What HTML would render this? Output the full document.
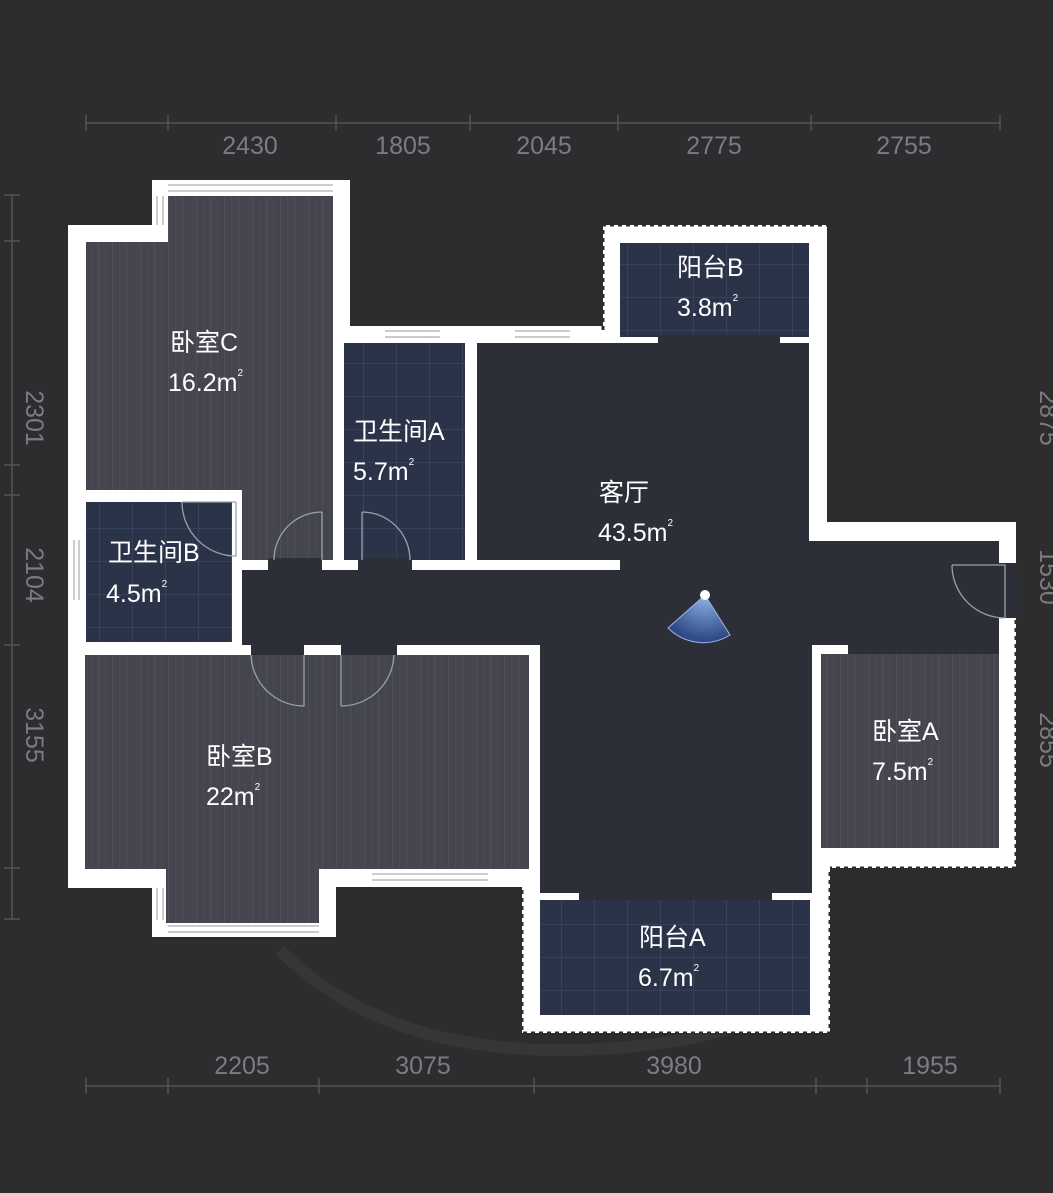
<!DOCTYPE html>
<html><head><meta charset="utf-8"><style>
html,body{margin:0;padding:0;background:#2d2d2f;}
svg{display:block}
text{font-family:"Liberation Sans","Noto Sans CJK SC",sans-serif;}
</style></head><body>
<svg width="1053" height="1193" viewBox="0 0 1053 1193" xmlns="http://www.w3.org/2000/svg">
<defs>
<pattern id="stripe" width="14" height="14" patternUnits="userSpaceOnUse">
<rect width="14" height="14" fill="#45454f"/><rect x="0" width="1" height="14" fill="#50505b"/><rect x="7" width="1" height="14" fill="#4a4a55"/>
</pattern>
<pattern id="grid" width="33" height="33" patternUnits="userSpaceOnUse">
<rect width="33" height="33" fill="#2b3348"/><rect width="1" height="33" fill="#38425c"/><rect width="33" height="1" fill="#38425c"/>
</pattern>
<radialGradient id="cam" cx="705" cy="595" r="45" gradientUnits="userSpaceOnUse">
<stop offset="0" stop-color="#8fb4ea"/><stop offset="1" stop-color="#2f4a86"/>
</radialGradient>
</defs>
<rect width="1053" height="1193" fill="#2d2d2f"/>
<path d="M280,950 Q380,1050 560,1050 Q720,1050 820,990" fill="none" stroke="#38383c" stroke-width="12" opacity="0.8"/>

<!-- dimension lines -->
<g stroke="#555" stroke-width="1.5">
<line x1="86" y1="123" x2="1000" y2="123"/>
<line x1="86" y1="1086" x2="1000" y2="1086"/>
<line x1="12" y1="195" x2="12" y2="920"/>
<line x1="86" y1="115" x2="86" y2="131"/><line x1="168" y1="115" x2="168" y2="131"/><line x1="336" y1="115" x2="336" y2="131"/><line x1="470" y1="115" x2="470" y2="131"/><line x1="618" y1="115" x2="618" y2="131"/><line x1="811" y1="115" x2="811" y2="131"/><line x1="1000" y1="115" x2="1000" y2="131"/>
<line x1="86" y1="1078" x2="86" y2="1094"/><line x1="168" y1="1078" x2="168" y2="1094"/><line x1="319" y1="1078" x2="319" y2="1094"/><line x1="534" y1="1078" x2="534" y2="1094"/><line x1="816" y1="1078" x2="816" y2="1094"/><line x1="867" y1="1078" x2="867" y2="1094"/><line x1="1000" y1="1078" x2="1000" y2="1094"/>
<line x1="4" y1="195" x2="20" y2="195"/><line x1="4" y1="241" x2="20" y2="241"/><line x1="4" y1="465" x2="20" y2="465"/><line x1="4" y1="495" x2="20" y2="495"/><line x1="4" y1="645" x2="20" y2="645"/><line x1="4" y1="868" x2="20" y2="868"/><line x1="4" y1="919" x2="20" y2="919"/>
</g>
<g fill="#7c7c80" font-size="25" text-anchor="middle" dominant-baseline="central">
<text x="250" y="146">2430</text><text x="403" y="146">1805</text><text x="544" y="146">2045</text><text x="714" y="146">2775</text><text x="904" y="146">2755</text>
<text x="242" y="1066">2205</text><text x="423" y="1066">3075</text><text x="674" y="1066">3980</text><text x="930" y="1066">1955</text>
<text transform="translate(34,418) rotate(90)">2301</text>
<text transform="translate(34,575) rotate(90)">2104</text>
<text transform="translate(34,735) rotate(90)">3155</text>
<text transform="translate(1048,418) rotate(90)">2875</text>
<text transform="translate(1048,577) rotate(90)">1530</text>
<text transform="translate(1048,740) rotate(90)">2855</text>
</g>

<!-- white wall mass -->
<path fill="#fff" d="M152,180 H350 V326 H603 V225 H827 V522 H1016 V868 H830 V1033 H522 V887 H336 V937 H152 V888 H68 V225 H152 Z"/>

<!-- rooms -->
<rect x="86" y="242" width="247" height="248" fill="url(#stripe)"/>
<rect x="168" y="196" width="165" height="50" fill="url(#stripe)"/>
<rect x="242" y="488" width="91" height="72" fill="url(#stripe)"/>
<rect x="86" y="502" width="146" height="140" fill="url(#grid)"/>
<rect x="344" y="343" width="121" height="217" fill="url(#grid)"/>
<rect x="620" y="243" width="189" height="94" fill="url(#grid)"/>
<g fill="#2c2e38">
<rect x="477" y="343" width="332" height="217"/>
<rect x="620" y="555" width="189" height="15"/>
<rect x="809" y="541" width="190" height="104"/>
<rect x="242" y="570" width="757" height="75"/>
<rect x="540" y="645" width="272" height="248"/>
<rect x="658" y="335" width="122" height="10"/>
<rect x="579" y="885" width="193" height="17"/>
<rect x="268" y="558" width="54" height="14"/>
<rect x="358" y="558" width="54" height="14"/>
<rect x="251" y="643" width="53" height="14"/>
<rect x="341" y="643" width="56" height="14"/>
<rect x="997" y="563" width="21" height="55"/>
<rect x="848" y="643" width="151" height="11"/>
</g>
<rect x="85" y="655" width="444" height="214" fill="url(#stripe)"/>
<rect x="166" y="866" width="153" height="57" fill="url(#stripe)"/>
<rect x="821" y="654" width="178" height="194" fill="url(#stripe)"/>
<rect x="540" y="900" width="270" height="115" fill="url(#grid)"/>

<!-- windows -->
<g stroke="#9a9aa0" stroke-width="1">
<line x1="168" y1="185" x2="333" y2="185"/><line x1="168" y1="191" x2="333" y2="191"/>
<line x1="157" y1="196" x2="157" y2="225"/><line x1="163" y1="196" x2="163" y2="225"/>
<line x1="385" y1="331" x2="440" y2="331"/><line x1="385" y1="337" x2="440" y2="337"/>
<line x1="515" y1="331" x2="570" y2="331"/><line x1="515" y1="337" x2="570" y2="337"/>
<line x1="74" y1="540" x2="74" y2="600"/><line x1="79" y1="540" x2="79" y2="600"/>
<line x1="168" y1="926" x2="319" y2="926"/><line x1="168" y1="932" x2="319" y2="932"/>
<line x1="157" y1="888" x2="157" y2="920"/><line x1="163" y1="888" x2="163" y2="920"/>
<line x1="372" y1="874" x2="488" y2="874"/><line x1="372" y1="880" x2="488" y2="880"/>
</g>
<!-- dashed outer edges -->
<g stroke="#2d2d2f" stroke-width="3" stroke-dasharray="4 4" fill="none">
<path d="M603,330 V225 H827"/>
<path d="M1016,620 V868 H830"/>
<path d="M522,890 V1033 H830 V870"/>
</g>

<!-- doors -->
<g stroke="#9aa0aa" stroke-width="1.3" fill="none">
<path d="M322,512 V560 M322,512 A48,48 0 0 0 274,560"/>
<path d="M362,512 V560 M362,512 A48,48 0 0 1 410,560"/>
<path d="M182,502 H236 M182,502 A54,54 0 0 0 236,556 V502"/>
<path d="M251,655 A53,53 0 0 0 304,706 V655"/>
<path d="M341,706 V655 M341,706 A53,53 0 0 0 394,655"/>
<path d="M952,565 H1005 V618 M952,565 A53,53 0 0 0 1005,618"/>
</g>

<!-- camera -->
<path d="M705,595 L668,628 A50,50 0 0 0 730,635 Z" fill="url(#cam)" stroke="#9fb6dc" stroke-width="1"/>
<circle cx="705" cy="595" r="5" fill="#fff"/>

<!-- labels -->
<g fill="#fff" font-size="25" dominant-baseline="central">
<text x="170" y="343">卧室C</text><text x="168" y="383">16.2m<tspan font-size="10" dy="-10">2</tspan></text>
<text x="353" y="432">卫生间A</text><text x="353" y="472">5.7m<tspan font-size="10" dy="-10">2</tspan></text>
<text x="108" y="553">卫生间B</text><text x="106" y="594">4.5m<tspan font-size="10" dy="-10">2</tspan></text>
<text x="677" y="268">阳台B</text><text x="677" y="308">3.8m<tspan font-size="10" dy="-10">2</tspan></text>
<text x="599" y="493">客厅</text><text x="598" y="533">43.5m<tspan font-size="10" dy="-10">2</tspan></text>
<text x="206" y="757">卧室B</text><text x="206" y="797">22m<tspan font-size="10" dy="-10">2</tspan></text>
<text x="872" y="732">卧室A</text><text x="872" y="772">7.5m<tspan font-size="10" dy="-10">2</tspan></text>
<text x="639" y="938">阳台A</text><text x="638" y="978">6.7m<tspan font-size="10" dy="-10">2</tspan></text>
</g>
</svg>
</body></html>
